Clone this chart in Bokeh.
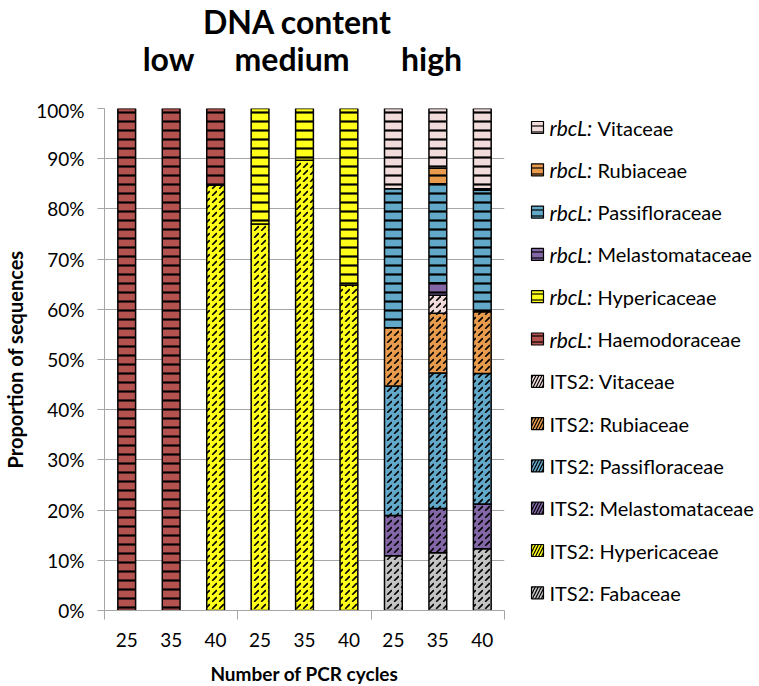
import numpy as np
from bokeh.plotting import figure
from bokeh.layouts import gridplot
from bokeh.models import (ColumnDataSource, FixedTicker, NumeralTickFormatter, Range1d)
from bokeh.core.properties import value
from bokeh.embed import file_html
from bokeh.resources import INLINE

# ---------------- data ----------------
cycle_labels = ["25", "35", "40", "25", "35", "40", "25", "35", "40"]
groups = ["low", "medium", "high"]
main_title = "DNA content"

series_names = [
    "ITS2: Fabaceae", "ITS2: Hypericaceae", "ITS2: Melastomataceae",
    "ITS2: Passifloraceae", "ITS2: Rubiaceae", "ITS2: Vitaceae",
    "rbcL: Haemodoraceae", "rbcL: Hypericaceae", "rbcL: Melastomataceae",
    "rbcL: Passifloraceae", "rbcL: Rubiaceae", "rbcL: Vitaceae",
]
its2_fabaceae = [0, 0, 0, 0, 0, 0, 10.9, 11.5, 12.3]
its2_hypericaceae = [0, 0, 84.7, 77.0, 89.7, 64.8, 0, 0, 0]
its2_melastomataceae = [0, 0, 0, 0, 0, 0, 8.0, 8.8, 8.9]
its2_passifloraceae = [0, 0, 0, 0, 0, 0, 25.8, 27.0, 26.0]
its2_rubiaceae = [0, 0, 0, 0, 0, 0, 11.6, 11.9, 12.3]
its2_vitaceae = [0, 0, 0, 0, 0, 0, 0, 3.6, 0]
rbcl_haemodoraceae = [100, 100, 15.3, 0, 0, 0, 0, 0, 0]
rbcl_hypericaceae = [0, 0, 0, 23.0, 10.3, 35.2, 0, 0, 0]
rbcl_melastomataceae = [0, 0, 0, 0, 0, 0, 0, 2.5, 0]
rbcl_passifloraceae = [0, 0, 0, 0, 0, 0, 27.7, 19.7, 24.2]
rbcl_rubiaceae = [0, 0, 0, 0, 0, 0, 0, 3.1, 0.3]
rbcl_vitaceae = [0, 0, 0, 0, 0, 0, 16.0, 11.9, 16.0]

series_values = [
    its2_fabaceae, its2_hypericaceae, its2_melastomataceae,
    its2_passifloraceae, its2_rubiaceae, its2_vitaceae,
    rbcl_haemodoraceae, rbcl_hypericaceae, rbcl_melastomataceae,
    rbcl_passifloraceae, rbcl_rubiaceae, rbcl_vitaceae,
]
family_colors = {
    "Fabaceae": "#C3C3C3",
    "Hypericaceae": "#FFFF1A",
    "Melastomataceae": "#8366A6",
    "Passifloraceae": "#62A8C9",
    "Rubiaceae": "#E89B4C",
    "Vitaceae": "#F2DCDB",
    "Haemodoraceae": "#B3524F",
}

FONT = "Lato"
TITLE_H = 98
PAD_TOP = 10
FRAME_H = 502
FRAME_W = 400
LEFT, RIGHT = 100, 18

n = len(cycle_labels)
xs = np.arange(1, n + 1)
x_range = Range1d(0.5, n + 0.5)

# ---------------- title panel ----------------
t = figure(frame_width=FRAME_W, frame_height=TITLE_H, output_backend="svg",
           toolbar_location=None, x_range=x_range, y_range=Range1d(TITLE_H, 0),
           min_border_left=LEFT, min_border_right=RIGHT, min_border_top=0,
           min_border_bottom=0)
t.outline_line_color = None
t.axis.visible = False
t.grid.visible = False
t.text(x=[4.84], y=[20.5], text=[main_title], text_font=value(FONT),
       text_font_style="bold", text_font_size="32px", text_align="center",
       text_baseline="alphabetic", text_color="black")
t.text(x=[1.94, 4.72, 7.86], y=[58, 58, 58], text=groups, text_font=value(FONT),
       text_font_style="bold", text_font_size="32px", text_align="center",
       text_baseline="alphabetic", text_color="black")

# ---------------- main chart ----------------
p = figure(frame_width=FRAME_W, frame_height=FRAME_H, output_backend="svg",
           toolbar_location=None, x_range=x_range, y_range=Range1d(0, 1),
           min_border_left=LEFT, min_border_right=RIGHT, min_border_top=PAD_TOP,
           min_border_bottom=0)
p.outline_line_color = None
p.background_fill_color = "white"

bottom = np.zeros(n)
for name, vals in zip(series_names, series_values):
    v = np.array(vals, dtype=float) / 100.0
    top = bottom + v
    mask = v > 0
    fam = name.split(": ")[1]
    is_its = name.startswith("ITS2")
    src = ColumnDataSource(dict(x=xs[mask], b=bottom[mask], t=top[mask]))
    p.vbar(x="x", bottom="b", top="t", width=0.4, source=src,
           fill_color=family_colors[fam], line_color="black", line_width=1.5,
           hatch_pattern="," if is_its else "-",
           hatch_color="black", hatch_weight=1.6 if is_its else 2.2,
           hatch_scale=7 if is_its else 9)
    bottom = top

p.xgrid.grid_line_color = None
p.ygrid.grid_line_color = "#A6A6A6"
p.ygrid.grid_line_width = 1

p.yaxis.ticker = FixedTicker(ticks=list(np.round(np.arange(0, 1.01, 0.1), 2)))
p.yaxis.formatter = NumeralTickFormatter(format="0%")
p.yaxis.axis_line_color = "#A6A6A6"
p.yaxis.major_tick_line_color = "#A6A6A6"
p.yaxis.major_tick_out = 7
p.yaxis.major_tick_in = 0
p.yaxis.minor_tick_line_color = None
p.yaxis.major_label_text_font = FONT
p.yaxis.major_label_text_font_size = "19px"
p.yaxis.major_label_text_color = "black"
p.yaxis.major_label_standoff = 13
p.yaxis.axis_label = "Proportion of sequences"
p.yaxis.axis_label_text_font = FONT
p.yaxis.axis_label_text_font_style = "bold"
p.yaxis.axis_label_text_font_size = "20px"
p.yaxis.axis_label_text_color = "black"
p.yaxis.axis_label_standoff = 6

p.xaxis.ticker = FixedTicker(ticks=list(xs), minor_ticks=[0.5, 3.5, 6.5, 9.5])
p.xaxis.major_label_overrides = {int(x): lab for x, lab in zip(xs, cycle_labels)}
p.xaxis.axis_line_color = "#A6A6A6"
p.xaxis.major_tick_line_color = None
p.xaxis.minor_tick_line_color = "#A6A6A6"
p.xaxis.minor_tick_out = 9
p.xaxis.minor_tick_in = 0
p.xaxis.major_label_text_font = FONT
p.xaxis.major_label_text_font_size = "19px"
p.xaxis.major_label_text_color = "black"
p.xaxis.major_label_standoff = 13
p.xaxis.axis_label = "Number of PCR cycles"
p.xaxis.axis_label_text_font = FONT
p.xaxis.axis_label_text_font_style = "bold"
p.xaxis.axis_label_text_font_size = "19px"
p.xaxis.axis_label_text_color = "black"
p.xaxis.axis_label_standoff = 12

# ---------------- legend panel ----------------
L_W = 240
top_page = TITLE_H + PAD_TOP
lg = figure(frame_width=L_W, frame_height=FRAME_H, output_backend="svg",
            toolbar_location=None,
            x_range=Range1d(0, L_W), y_range=Range1d(top_page + FRAME_H, top_page),
            min_border_left=0, min_border_right=0, min_border_top=PAD_TOP,
            min_border_bottom=0)
lg.outline_line_color = None
lg.axis.visible = False
lg.grid.visible = False

legend_order = list(reversed(series_names))
row_y = [127 + i * 42.3 for i in range(len(legend_order))]
for yy, name in zip(row_y, legend_order):
    prefix, fam = name.split(": ")
    is_its = prefix == "ITS2"
    lg.rect(x=15, y=yy, width=12, height=12, fill_color=family_colors[fam],
            line_color="black", line_width=1.2,
            hatch_pattern="/" if is_its else "-", hatch_color="black",
            hatch_weight=1.2, hatch_scale=6)
    if is_its:
        lg.text(x=[27], y=[yy], text=[name], text_font=value(FONT),
                text_font_size="20px", text_baseline="middle")
    else:
        lg.text(x=[27], y=[yy], text=["rbcL:"], text_font=value(FONT),
                text_font_style="italic", text_font_size="21px",
                text_baseline="middle")
        lg.text(x=[75], y=[yy], text=[fam], text_font=value(FONT),
                text_font_size="20px", text_baseline="middle")

layout = gridplot([[t, None], [p, lg]], toolbar_location=None)
open("out.html", "w").write(file_html(layout, INLINE))
